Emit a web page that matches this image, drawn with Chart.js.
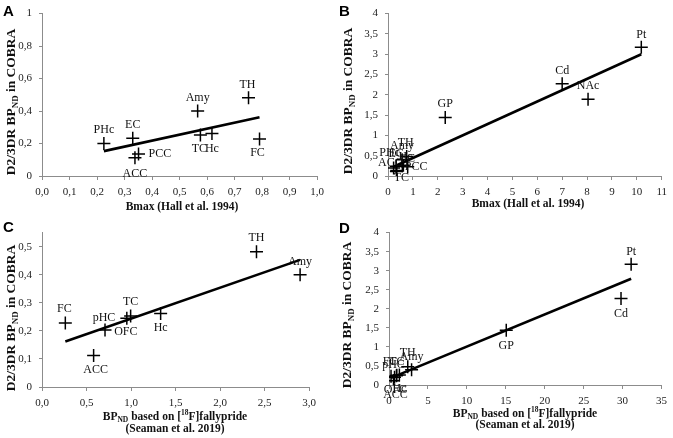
<!DOCTYPE html>
<html>
<head>
<meta charset="utf-8">
<script src="https://cdn.jsdelivr.net/npm/chart.js@4/dist/chart.umd.min.js"></script>
<style>
  body { margin: 0; background: #fff; }
  #wrap { position: relative; width: 673px; height: 438px; }
  #wrap canvas { position: absolute; }
</style>
</head>
<body>
<div id="wrap">
  <canvas id="cA" width="336" height="219" style="left:0;top:0"></canvas>
  <canvas id="cB" width="337" height="219" style="left:336px;top:0"></canvas>
  <canvas id="cC" width="336" height="219" style="left:0;top:219px"></canvas>
  <canvas id="cD" width="337" height="219" style="left:336px;top:219px"></canvas>
</div>
<script>
// panel A: Bmax (Hall 1994) vs COBRA BPnd, extrastriatal regions
var regionsA = ['PHc', 'EC', 'ACC', 'PCC', 'Amy', 'TC', 'Hc', 'TH', 'FC'];
var bmaxA = [0.225, 0.33, 0.338, 0.351, 0.566, 0.576, 0.618, 0.751, 0.791];
var cobraA = [0.20, 0.233, 0.112, 0.135, 0.40, 0.253, 0.262, 0.482, 0.228];

// panel B: same plus striatal regions
var regionsB = ['PHc', 'EC', 'ACC', 'PCC', 'Amy', 'TC', 'Hc', 'TH', 'FC', 'GP', 'Cd', 'NAc', 'Pt'];
var bmaxB = [0.225, 0.33, 0.338, 0.351, 0.566, 0.576, 0.618, 0.751, 0.791, 2.3, 7.0, 8.04, 10.18];
var cobraB = [0.20, 0.233, 0.112, 0.135, 0.40, 0.253, 0.262, 0.482, 0.228, 1.44, 2.27, 1.89, 3.17];

// panel C: fallypride BPnd (Seaman 2019) vs COBRA BPnd
var regionsC = ['FC', 'pHC', 'ACC', 'OFC', 'TC', 'Hc', 'TH', 'Amy'];
var fallyC = [0.262, 0.708, 0.58, 0.953, 0.996, 1.333, 2.41, 2.90];
var cobraC = [0.228, 0.203, 0.112, 0.245, 0.253, 0.262, 0.482, 0.40];

// panel D: same plus striatal regions
var regionsD = ['FC', 'pHC', 'ACC', 'OFC', 'TC', 'Hc', 'TH', 'Amy', 'GP', 'Cd', 'Pt'];
var fallyD = [0.262, 0.708, 0.58, 0.953, 0.996, 1.333, 2.41, 2.90, 15.06, 29.8, 31.1];
var cobraD = [0.228, 0.203, 0.112, 0.245, 0.253, 0.262, 0.482, 0.40, 1.44, 2.27, 3.17];

var serif = '"Liberation Serif", "Times New Roman", serif';
var axisGrey = '#8c8c8c';

// label offsets in px [dx, dy, align]
var offA = [[0,-14],[0,-13],[0,16],[10,0,'left'],[0,-13],[-1,14],[0,15],[-1,-13],[-2,14]];
var offB = [[-4,-15],[0,-13],[-6,-9],[8,-4,'left'],[0,-14],[-1,12],[2,-9],[-1,-14],[0,-8],[0,-14],[0,-13],[0,-13],[0,-12]];
var offC = [[-1,-14],[-1,-12],[2,14],[-1,14],[0,-14],[0,14],[0,-14],[0,-13]];
var offD = offC.concat([[0,16],[0,15],[0,-12]]);

function comma(v, d) {
    return String(Number(v.toFixed(d))).replace('.', ',');
}

function fitLine(xs, ys) {
    var n = xs.length, mx = 0, my = 0, sxy = 0, sxx = 0;
    for (var i = 0; i < n; i++) { mx += xs[i] / n; my += ys[i] / n; }
    for (var i = 0; i < n; i++) {
        sxy += (xs[i] - mx) * (ys[i] - my);
        sxx += (xs[i] - mx) * (xs[i] - mx);
    }
    var b = sxy / sxx, a = my - b * mx;
    var lo = Math.min.apply(null, xs), hi = Math.max.apply(null, xs);
    return [{x: lo, y: a + b * lo}, {x: hi, y: a + b * hi}];
}

// draws text made of segments, some of them sub/superscript
function richText(ctx, segs, cx, cy, size) {
    var w = 0;
    segs.forEach(function(s) {
        ctx.font = 'bold ' + (s.s ? size * 0.65 : size) + 'px ' + serif;
        s.w = ctx.measureText(s.t).width;
        w += s.w;
    });
    var x = cx - w / 2;
    ctx.textAlign = 'left';
    ctx.textBaseline = 'middle';
    segs.forEach(function(s) {
        ctx.font = 'bold ' + (s.s ? size * 0.65 : size) + 'px ' + serif;
        var dy = s.s === 'sub' ? size * 0.25 : (s.s === 'sup' ? -size * 0.3 : 0);
        ctx.fillText(s.t, x, cy + dy);
        x += s.w;
    });
}

var yTitle = [{t: 'D2/3DR BP'}, {t: 'ND', s: 'sub'}, {t: ' in COBRA'}];
var xTitleBmax = [[{t: 'Bmax (Hall et al. 1994)'}]];
var xTitleFally = [
    [{t: 'BP'}, {t: 'ND', s: 'sub'}, {t: ' based on ['}, {t: '18', s: 'sup'}, {t: 'F]fallypride'}],
    [{t: '(Seaman et al. 2019)'}]
];

function makePanel(p) {
    var canvas = document.getElementById(p.id);
    var W = canvas.width, H = canvas.height;

    var decor = {
        id: 'decor',
        afterDatasetsDraw: function(chart) {
            var ctx = chart.ctx;
            var meta = chart.getDatasetMeta(0);
            ctx.save();
            ctx.fillStyle = '#111';
            ctx.font = '12px ' + serif;
            ctx.textBaseline = 'middle';
            meta.data.forEach(function(pt, i) {
                var o = p.offsets[i] || [0, -13];
                ctx.textAlign = o[2] || 'center';
                ctx.fillText(p.names[i], pt.x + o[0], pt.y + o[1]);
            });
            ctx.restore();
        },
        afterDraw: function(chart) {
            var ctx = chart.ctx;
            ctx.save();
            ctx.fillStyle = '#000';
            ctx.font = 'bold 15px "Liberation Sans", Arial, sans-serif';
            ctx.textAlign = 'left';
            ctx.textBaseline = 'top';
            ctx.fillText(p.letter, 3, p.letterY);
            ctx.fillStyle = '#111';
            p.xTitle.forEach(function(line, i) {
                richText(ctx, line, p.xtX, p.xtY[i], 11.5);
            });
            ctx.translate(p.ytX, p.ytY);
            ctx.rotate(-Math.PI / 2);
            richText(ctx, yTitle, 0, 0, 13.5);
            ctx.restore();
        }
    };

    var pts = p.xs.map(function(x, i) { return {x: x, y: p.ys[i]}; });

    return new Chart(canvas, {
        type: 'scatter',
        data: {
            datasets: [
                {
                    data: pts,
                    pointStyle: 'cross',
                    pointRadius: 6.5,
                    pointBorderWidth: 1.5,
                    borderColor: '#000',
                    backgroundColor: '#000'
                },
                {
                    data: fitLine(p.xs, p.ys),
                    showLine: true,
                    pointRadius: 0,
                    borderColor: '#000',
                    borderWidth: 2.6
                }
            ]
        },
        options: {
            responsive: false,
            animation: false,
            events: [],
            layout: { padding: { left: 0, top: p.area[1], right: W - p.area[2], bottom: 0 } },
            plugins: { legend: { display: false }, tooltip: { enabled: false } },
            scales: {
                x: {
                    type: 'linear',
                    min: p.xMin, max: p.xMax,
                    afterFit: function(s) { s.height = H - p.area[3]; },
                    grid: { drawOnChartArea: false, tickLength: 4, color: axisGrey },
                    border: { color: axisGrey, width: 1 },
                    ticks: {
                        stepSize: p.xStep, includeBounds: false, autoSkip: false, maxRotation: 0,
                        padding: 6, color: '#222', font: { family: serif, size: 11 },
                        callback: function(v) { return comma(v, p.xDec).replace(/^(-?\d+)$/, p.xDec ? '$1,0' : '$1'); }
                    }
                },
                y: {
                    type: 'linear',
                    min: 0, max: p.yMax,
                    afterFit: function(s) { s.width = p.area[0]; },
                    grid: { drawOnChartArea: false, tickLength: 3, color: axisGrey },
                    border: { color: axisGrey, width: 1 },
                    ticks: {
                        stepSize: p.yStep, includeBounds: false, padding: 7,
                        color: '#222', font: { family: serif, size: 11 },
                        callback: function(v) { return comma(v, 2); }
                    }
                }
            }
        },
        plugins: [decor]
    });
}

makePanel({ id: 'cA', letter: 'A', letterY: 4, names: regionsA, xs: bmaxA, ys: cobraA, offsets: offA,
    area: [42, 6, 317, 176], xMin: 0, xMax: 1, xStep: 0.1, xDec: 1, yMax: 1, yStep: 0.2,
    xTitle: xTitleBmax, xtX: 182, xtY: [207], ytX: 12, ytY: 102 });

makePanel({ id: 'cB', letter: 'B', letterY: 4, names: regionsB, xs: bmaxB, ys: cobraB, offsets: offB,
    area: [52, 6, 330, 176], xMin: 0, xMax: 11, xStep: 1, xDec: 0, yMax: 4, yStep: 0.5,
    xTitle: xTitleBmax, xtX: 192, xtY: [204], ytX: 13, ytY: 101 });

makePanel({ id: 'cC', letter: 'C', letterY: 1, names: regionsC, xs: fallyC, ys: cobraC, offsets: offC,
    area: [42, 12, 309, 168], xMin: 0, xMax: 3, xStep: 0.5, xDec: 1, yMax: 0.55, yStep: 0.1,
    xTitle: xTitleFally, xtX: 175, xtY: [198, 210], ytX: 12, ytY: 99 });

makePanel({ id: 'cD', letter: 'D', letterY: 2, names: regionsD, xs: fallyD, ys: cobraD, offsets: offD,
    area: [53, 12, 328, 166], xMin: 0, xMax: 35, xStep: 5, xDec: 0, yMax: 4, yStep: 0.5,
    xTitle: xTitleFally, xtX: 189, xtY: [195, 206], ytX: 12, ytY: 96 });
</script>
</body>
</html>
